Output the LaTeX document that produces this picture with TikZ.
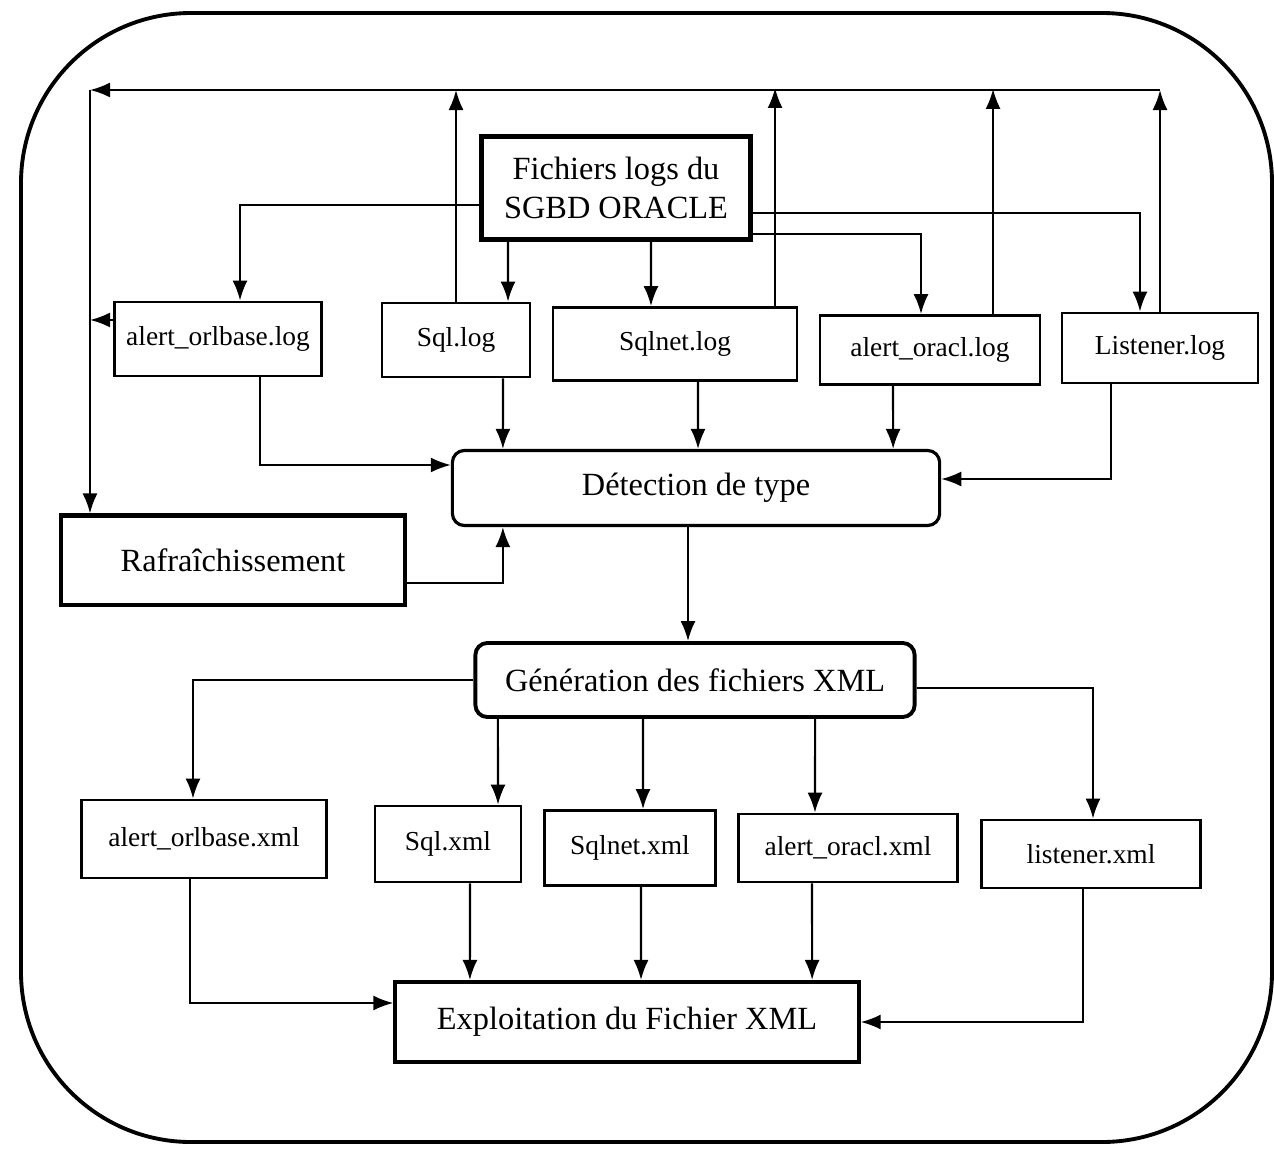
\documentclass[tikz,border=0pt]{standalone}
\usepackage{fontspec}
\setmainfont{Liberation Serif}
\usepackage{tikz}
\usetikzlibrary{arrows.meta, positioning}
\tikzstyle{filebox} = [draw, rectangle, align=center, line width=0.8pt, inner sep=2pt, font=\fontsize{7.8}{9}\selectfont]
\tikzstyle{mainbox} = [draw, rectangle, align=center, line width=1.15pt, inner sep=2pt, font=\fontsize{9.2}{11}\selectfont]
\tikzstyle{stagebox} = [draw, rectangle, rounded corners=0.12cm, align=center, line width=1.1pt, inner sep=2pt, font=\fontsize{9.2}{11}\selectfont]
\tikzstyle{arrow} = [line width=0.6pt, -{Latex[length=2mm,width=1.5mm]}]

\begin{document}
\begin{tikzpicture}[x=0.01cm, y=-0.01cm]
    \useasboundingbox (0,0) rectangle (1274,1152);
    \draw[line width=1.1pt, rounded corners=1.7cm] (21,13) rectangle (1272,1142);

    \node (src) [mainbox, line width=1.4pt, minimum width=2.68cm, minimum height=1.03cm] at (616,188) {Fichiers logs du\\SGBD ORACLE};
    \node (aorl) [filebox, minimum width=2.07cm, minimum height=0.74cm] at (218,339) {alert\_orlbase.log};
    \node (sqllog) [filebox, minimum width=1.48cm, minimum height=0.74cm] at (456,340) {Sql.log};
    \node (sqlnet) [filebox, minimum width=2.44cm, minimum height=0.73cm] at (675,344) {Sqlnet.log};
    \node (aoracl) [filebox, minimum width=2.20cm, minimum height=0.69cm] at (930,350) {alert\_oracl.log};
    \node (listener) [filebox, minimum width=1.96cm, minimum height=0.70cm] at (1160,348) {Listener.log};
    \node (detect) [stagebox, line width=0.9pt, minimum width=4.87cm, minimum height=0.75cm] at (696,488) {Détection de type};
    \node (raf) [mainbox, minimum width=3.43cm, minimum height=0.89cm] at (233,560) {Rafraîchissement};
    \node (gen) [stagebox, minimum width=4.39cm, minimum height=0.74cm] at (695,680) {Génération des fichiers XML};
    \node (axorl) [filebox, minimum width=2.45cm, minimum height=0.78cm] at (204,839) {alert\_orlbase.xml};
    \node (sqlxml) [filebox, minimum width=1.46cm, minimum height=0.76cm] at (448,844) {Sql.xml};
    \node (sqlnetxml) [filebox, minimum width=1.71cm, minimum height=0.75cm] at (630,848) {Sqlnet.xml};
    \node (aoraclxml) [filebox, minimum width=2.19cm, minimum height=0.68cm] at (848,848) {alert\_oracl.xml};
    \node (listenerxml) [filebox, minimum width=2.19cm, minimum height=0.68cm] at (1091,854) {listener.xml};
    \node (expl) [mainbox, minimum width=4.63cm, minimum height=0.80cm] at (627,1022) {Exploitation du Fichier XML};

    \coordinate (busL) at (90,90);
    \coordinate (busR) at (1160,90);

    \draw [arrow] ([yshift=-0.17cm]src.west) -| ([xshift=0.22cm]aorl.north);
    \draw [arrow] ([xshift=-1.08cm]src.south) -- ([xshift=0.52cm]sqllog.north);
    \draw [arrow] ([xshift=0.35cm]src.south) -- ([xshift=-0.24cm]sqlnet.north);
    \draw [arrow] ([yshift=-0.46cm]src.east) -| ([xshift=-0.09cm]aoracl.north);
    \draw [arrow] ([yshift=-0.25cm]src.east) -| ([xshift=-0.20cm]listener.north);

    \draw [arrow] (sqllog.north) -- (sqllog.north |- busR);
    \draw [arrow] ([xshift=1.00cm]sqlnet.north) -- ++(0,2.18cm);
    \draw [arrow] ([xshift=0.63cm]aoracl.north) -- ++(0,2.25cm);
    \draw [arrow] (listener.north) -- (busR);
    \draw [arrow] (busR) -- (busL);
    \draw [arrow] (busL) -- (busL |- raf.north);
    \draw [arrow] ([yshift=0.19cm]aorl.west) -- ++(-0.23cm,0);

    \draw [arrow] ([xshift=0.42cm]aorl.south) |- ([yshift=0.23cm]detect.west);
    \draw [arrow] ([xshift=0.47cm]sqllog.south) -- ([xshift=-1.93cm]detect.north);
    \draw [arrow] ([xshift=0.23cm]sqlnet.south) -- ([xshift=0.02cm]detect.north);
    \draw [arrow] ([xshift=-0.37cm]aoracl.south) -- ([xshift=1.97cm]detect.north);
    \draw [arrow] ([xshift=-0.49cm]listener.south) |- ([yshift=0.09cm]detect.east);
    \draw [arrow] ([yshift=-0.23cm]raf.east) -| ([xshift=-1.93cm]detect.south);
    \draw [arrow] ([xshift=-0.08cm]detect.south) -- ([xshift=-0.07cm]gen.north);

    \draw [arrow] (gen.west) -| ([xshift=-0.11cm]axorl.north);
    \draw [arrow] ([xshift=-1.97cm]gen.south) -- ([xshift=0.50cm]sqlxml.north);
    \draw [arrow] ([xshift=-0.52cm]gen.south) -- ([xshift=0.13cm]sqlnetxml.north);
    \draw [arrow] ([xshift=1.20cm]gen.south) -- ([xshift=-0.33cm]aoraclxml.north);
    \draw [arrow] ([yshift=-0.08cm]gen.east) -| ([xshift=0.02cm]listenerxml.north);

    \draw [arrow] ([xshift=-0.14cm]axorl.south) |- ([yshift=0.19cm]expl.west);
    \draw [arrow] ([xshift=0.22cm]sqlxml.south) -- ([xshift=-1.57cm]expl.north);
    \draw [arrow] ([xshift=0.11cm]sqlnetxml.south) -- ([xshift=0.14cm]expl.north);
    \draw [arrow] ([xshift=-0.36cm]aoraclxml.south) -- ([xshift=1.85cm]expl.north);
    \draw [arrow] ([xshift=-0.08cm]listenerxml.south) |- (expl.east);
\end{tikzpicture}
\end{document}
